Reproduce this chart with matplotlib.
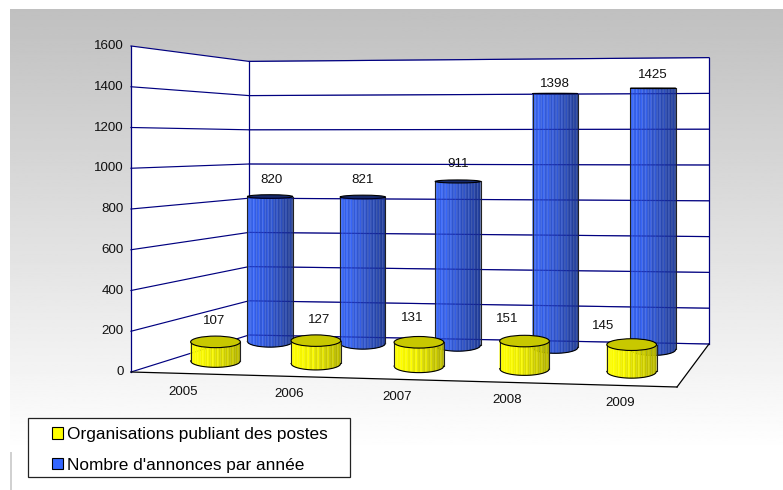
import numpy as np
import matplotlib.pyplot as plt
from matplotlib.patches import Polygon, Patch, Ellipse, Rectangle

plt.rcParams['font.family'] = ['Liberation Sans', 'DejaVu Sans']

# Data
years = ['2005', '2006', '2007', '2008', '2009']
organisations = [107, 127, 131, 151, 145]
annonces = [820, 821, 911, 1398, 1425]
y_ticks = [0, 200, 400, 600, 800, 1000, 1200, 1400, 1600]
legend_labels = ['Organisations publiant des postes', "Nombre d'annonces par année"]

# Box corners of the 3D chart, in pixels
F0, F1 = np.array([131., 372.]), np.array([677., 387.])
B0, B1 = np.array([249., 335.]), np.array([709., 344.])
K_F0, K_F1, K_B0, K_B1 = 0.20375, 0.213, 0.171, 0.179  # px per unit at each corner


def project(u, v, val=0):
    front = (1 - u) * F0 + u * F1
    back = (1 - u) * B0 + u * B1
    p = (1 - v) * front + v * back
    k = (1 - v) * ((1 - u) * K_F0 + u * K_F1) + v * ((1 - u) * K_B0 + u * K_B1)
    return p[0], p[1] - k * val


def ell_b(y):
    # the flatter the closer the ellipse is to eye level
    return max(0.3, 0.00129 * max(y - 70, 0) ** 1.5)


def cylinder(ax, u, v, val, du, base_cols, top_col, z):
    x0, y0 = project(u, v)
    x1, y1 = project(u, v, val)
    xl = project(u - du, v)[0]
    xr = project(u + du, v)[0]
    a = (xr - xl) / 2
    xc = (xl + xr) / 2
    b0, b1 = ell_b(y0), ell_b(y1)
    n = len(base_cols)
    edges = np.linspace(-1, 1, n + 1)
    for i in range(n):
        t = np.linspace(edges[i], edges[i + 1], 4)
        xs = xc + a * t
        low = y0 + b0 * np.sqrt(np.clip(1 - t**2, 0, 1))
        ax.fill(np.r_[xs, xs[::-1]], np.r_[low, np.full(4, y1)[::-1]],
                color=base_cols[i], lw=0.2, zorder=z)
    t = np.linspace(-1, 1, 60)
    ax.plot(xc + a * t, y0 + b0 * np.sqrt(1 - t**2), color='black', lw=0.8, zorder=z + .1)
    ax.plot([xc - a, xc - a], [y0, y1], color='#222222', lw=0.8, zorder=z + .1)
    ax.plot([xc + a, xc + a], [y0, y1], color='#222222', lw=0.8, zorder=z + .1)
    ax.add_patch(Ellipse((xc, y1), 2 * a, 2 * b1, facecolor=top_col, edgecolor='black',
                         lw=0.8, zorder=z + .2))


def strips(light, dark, n=30):
    light, dark = np.array(light), np.array(dark)
    cols = []
    for i in range(n):
        t = i / (n - 1)
        c = light + (dark - light) * t**1.3
        if i % 3 == 1:
            c = np.clip(c * 1.12, 0, 1)
        cols.append(c)
    return cols


fig = plt.figure(figsize=(7.83, 4.9), dpi=100)
ax = fig.add_axes([0, 0, 1, 1])

# grey background fading to white
grad = np.linspace(192, 255, 256).reshape(-1, 1) / 255
ax.imshow(grad, cmap='gray', vmin=0, vmax=1, extent=(10, 783, 453, 10), aspect='auto', zorder=0)
ax.plot([10.5, 10.5], [453, 490], color='#d0d0d0', lw=1.4, zorder=0)

# walls and floor
navy = '#000080'
top = y_ticks[-1]
ax.add_patch(Polygon([project(0, 0), project(0, 0, top), project(0, 1, top), project(0, 1)],
                     facecolor='white', edgecolor='none', zorder=1))
ax.add_patch(Polygon([project(0, 1), project(0, 1, top), project(1, 1, top), project(1, 1)],
                     facecolor='white', edgecolor='none', zorder=1))
ax.add_patch(Polygon([project(0, 0), project(1, 0), project(1, 1), project(0, 1)],
                     facecolor='white', edgecolor='none', zorder=1))

for val in y_ticks:
    a, b, c = project(0, 0, val), project(0, 1, val), project(1, 1, val)
    ax.plot([a[0], b[0], c[0]], [a[1], b[1], c[1]], color=navy, lw=0.85, zorder=2)
    # the gridlines show faintly through the translucent blue cylinders
    ax.plot([b[0], c[0]], [b[1], c[1]], color=navy, lw=0.85, alpha=0.35, zorder=3.5)
    ax.text(a[0] - 7, a[1], str(val), ha='right', va='center', fontsize=9.6, color='#111111')

for u, v in [(0, 0), (0, 1), (1, 1)]:
    p, q = project(u, v), project(u, v, top)
    ax.plot([p[0], q[0]], [p[1], q[1]], color=navy, lw=0.9, zorder=2)
for p, q in [(project(0, 0), project(1, 0)), (project(1, 0), project(1, 1))]:
    ax.plot([p[0], q[0]], [p[1], q[1]], color='black', lw=0.9, zorder=2)

# cylinders
u_blue = [0.082, 0.278, 0.479, 0.685, 0.892]
u_yellow = [0.088, 0.282, 0.481, 0.685, 0.892]
u_cat = [0.1, 0.293, 0.491, 0.693, 0.899]
v_blue, v_yellow = 0.85, 0.33
yellow_scale = 0.92
du = 0.048
blue_cols = strips((0.21, 0.38, 0.92), (0.13, 0.23, 0.56))
yellow_cols = strips((1.0, 1.0, 0.0), (0.68, 0.68, 0.0))
for i in range(len(years)):
    cylinder(ax, u_blue[i], v_blue, annonces[i], du, blue_cols, '#16296b', 3 + i * .01)
for i in range(len(years)):
    cylinder(ax, u_yellow[i], v_yellow, organisations[i] * yellow_scale, du, yellow_cols, '#c8c800', 4 + i * .01)

# value labels
blue_off = [(1, -17), (0, -17), (0, -17), (0, -10), (0, -13)]
yellow_off = [(-1.5, -21), (3, -21), (-6.5, -24), (-17, -22), (-28.5, -19)]
for i in range(len(years)):
    x, y = project(u_blue[i], v_blue, annonces[i])
    ax.text(x + blue_off[i][0], y + blue_off[i][1], str(annonces[i]), ha='center', va='center',
            fontsize=9.6, color='#111111', zorder=6)
    x, y = project(u_yellow[i], v_yellow, organisations[i] * yellow_scale)
    ax.text(x + yellow_off[i][0], y + yellow_off[i][1], str(organisations[i]), ha='center', va='center',
            fontsize=9.6, color='#111111', zorder=6)

# category labels under the front edge
for i, yr in enumerate(years):
    x, y = project(u_cat[i], 0)
    ax.text(x - 2, y + 18, yr, ha='center', va='center', fontsize=9.6, color='#111111')

# legend: frame drawn apart because its padding is not even
ax.add_patch(Rectangle((28, 418), 322, 59, facecolor='white', edgecolor='#222222', lw=0.9, zorder=7))
handles = [Patch(facecolor='#ffff00', edgecolor='black', lw=0.8),
           Patch(facecolor='#3366ff', edgecolor='black', lw=0.8)]
leg = ax.legend(handles, legend_labels, loc='upper left', bbox_to_anchor=(52, 427),
                bbox_transform=ax.transData, borderaxespad=0, borderpad=0, fontsize=12.4,
                frameon=False, handlelength=0.64, handleheight=0.64,
                handletextpad=0.25, labelspacing=0.9)
leg.set_zorder(8)

ax.set_xlim(0, 783)
ax.set_ylim(490, 0)
ax.axis('off')
fig.savefig('out.png', dpi=100)
